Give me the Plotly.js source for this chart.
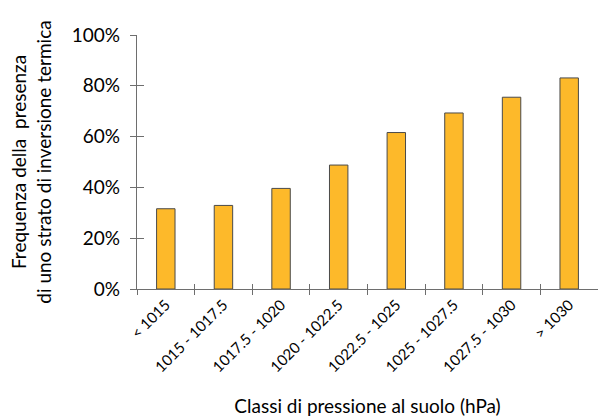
<!DOCTYPE html>
<html>
<head>
<meta charset="utf-8">
<script src="https://cdn.plot.ly/plotly-3.0.1.min.js"></script>
<style>
  html, body { margin: 0; padding: 0; background: #ffffff; }
  #chart { width: 598px; height: 417px; }
</style>
</head>
<body>
<div id="chart"></div>
<script>
// Pressure classes at ground level (hPa)
const classes = ['< 1015', '1015 - 1017.5', '1017.5 - 1020', '1020 - 1022.5',
                 '1022.5 - 1025', '1025 - 1027.5', '1027.5 - 1030', '> 1030'];
// Frequency of a thermal inversion layer (%)
const frequency = [31.6, 32.9, 39.6, 48.8, 61.6, 69.3, 75.5, 83.1];
const yTicks = [0, 20, 40, 60, 80, 100];
const yTickLabels = ['0%', '20%', '40%', '60%', '80%', '100%'];

const FONT = 'Lato, Open Sans, sans-serif';
const AXIS_COLOR = '#6e6e6e';
const TEXT_COLOR = '#000000';

const bars = {
  type: 'bar',
  x: classes,
  y: frequency,
  marker: { color: '#fdb92a', line: { color: '#4a4a4a', width: 1 } },
  hoverinfo: 'x+y',
  showlegend: false
};

// Transparent copy on the overlay axes so their inward tick marks line up
const overlay = Object.assign({}, bars, {
  xaxis: 'x2', yaxis: 'y2',
  marker: { color: 'rgba(0,0,0,0)', line: { width: 0 } },
  hoverinfo: 'skip'
});

const layout = {
  width: 598,
  height: 417,
  margin: { l: 137, r: 0, t: 35, b: 128 },
  paper_bgcolor: '#ffffff',
  plot_bgcolor: '#ffffff',
  bargap: 0.68,
  font: { family: FONT, color: TEXT_COLOR },
  xaxis: {
    type: 'category',
    categoryarray: classes,
    range: [-0.5, 7.5],
    tickson: 'boundaries',
    ticks: 'outside',
    ticklen: 5,
    tickcolor: AXIS_COLOR,
    showline: true,
    linecolor: AXIS_COLOR,
    linewidth: 1.2,
    showgrid: false,
    zeroline: false,
    tickangle: -45,
    tickfont: { family: FONT, size: 15, color: TEXT_COLOR },
    title: { text: 'Classi di pressione al suolo (hPa)', font: { family: FONT, size: 19, color: TEXT_COLOR }, standoff: 25 }
  },
  yaxis: {
    range: [0, 100],
    tickvals: yTicks,
    ticktext: yTickLabels,
    ticks: 'outside',
    ticklen: 6,
    tickcolor: AXIS_COLOR,
    ticklabelstandoff: 6,
    showline: true,
    linecolor: AXIS_COLOR,
    linewidth: 1.2,
    showgrid: false,
    zeroline: false,
    tickfont: { family: FONT, size: 19, color: TEXT_COLOR },
    title: {
      text: 'Frequenza della  presenza<br>di uno strato di inversione termica',
      font: { family: FONT, size: 19, color: TEXT_COLOR },
      standoff: 15
    }
  },
  xaxis2: {
    type: 'category',
    categoryarray: classes,
    range: [-0.5, 7.5],
    overlaying: 'x',
    anchor: 'y2',
    tickson: 'boundaries',
    ticks: 'inside',
    ticklen: 5,
    tickcolor: AXIS_COLOR,
    showticklabels: false,
    showline: false,
    showgrid: false,
    zeroline: false
  },
  yaxis2: {
    range: [0, 100],
    overlaying: 'y',
    anchor: 'x2',
    side: 'left',
    tickvals: yTicks,
    ticks: 'inside',
    ticklen: 7,
    tickcolor: AXIS_COLOR,
    showticklabels: false,
    showline: false,
    showgrid: false,
    zeroline: false
  }
};

Plotly.newPlot('chart', [bars, overlay], layout, { displayModeBar: false, staticPlot: true });
</script>
</body>
</html>
